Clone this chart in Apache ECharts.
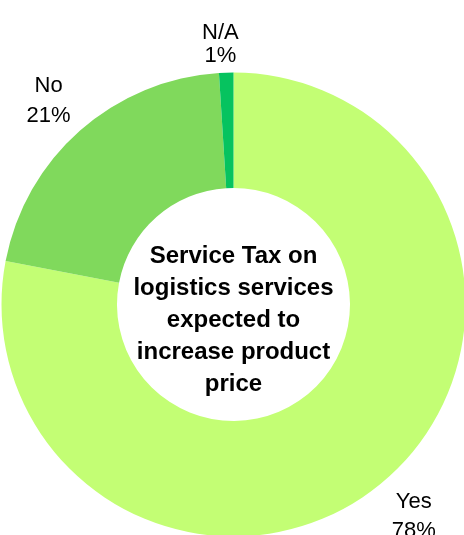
<!DOCTYPE html>
<html>
<head>
<meta charset="utf-8">
<script src="https://cdn.jsdelivr.net/npm/echarts@6/dist/echarts.min.js"></script>
<style>
  html, body { margin: 0; padding: 0; background: #ffffff; }
  #chart { width: 464px; height: 535px; }
</style>
</head>
<body>
<div id="chart"></div>
<script>
// Survey answers and their shares (percent)
const categories = ['Yes', 'No', 'N/A'];
const shares = [78, 21, 1];
const sliceColors = ['#c3fe74', '#80d95c', '#06c35f'];
const centerTitle = 'Service Tax on\nlogistics services\nexpected to\nincrease product\nprice';

// per-slice label spacing: distance from the ring and line height
const labelGap = [43, 40, 28];
const labelLineHeight = [29, 30, 23];

const chart = echarts.init(document.getElementById('chart'), null, { renderer: 'canvas' });

const data = categories.map((name, i) => ({
  name: name,
  value: shares[i],
  itemStyle: { color: sliceColors[i] },
  label: { lineHeight: labelLineHeight[i] },
  labelLine: { length: labelGap[i] }
}));

chart.setOption({
  animation: false,
  backgroundColor: '#ffffff',
  graphic: [{
    type: 'text',
    x: 233.5,
    y: 320,
    style: {
      text: centerTitle,
      fill: '#000000',
      font: 'bold 24px "Liberation Sans", Arial, sans-serif',
      lineHeight: 32,
      align: 'center',
      verticalAlign: 'middle'
    }
  }],
  series: [{
    type: 'pie',
    center: [233.5, 304.5],
    radius: [116.5, 232],
    startAngle: 90,
    clockwise: true,
    avoidLabelOverlap: false,
    data: data,
    label: {
      show: true,
      position: 'outside',
      formatter: p => p.name + '\n' + p.value + '%',
      fontFamily: '"Liberation Sans", Arial, sans-serif',
      fontSize: 22,
      color: '#000000'
    },
    labelLine: { show: false, length2: 0 },
    labelLayout: function () {
      return { align: 'center' };
    },
    emphasis: { disabled: true }
  }]
});
</script>
</body>
</html>
